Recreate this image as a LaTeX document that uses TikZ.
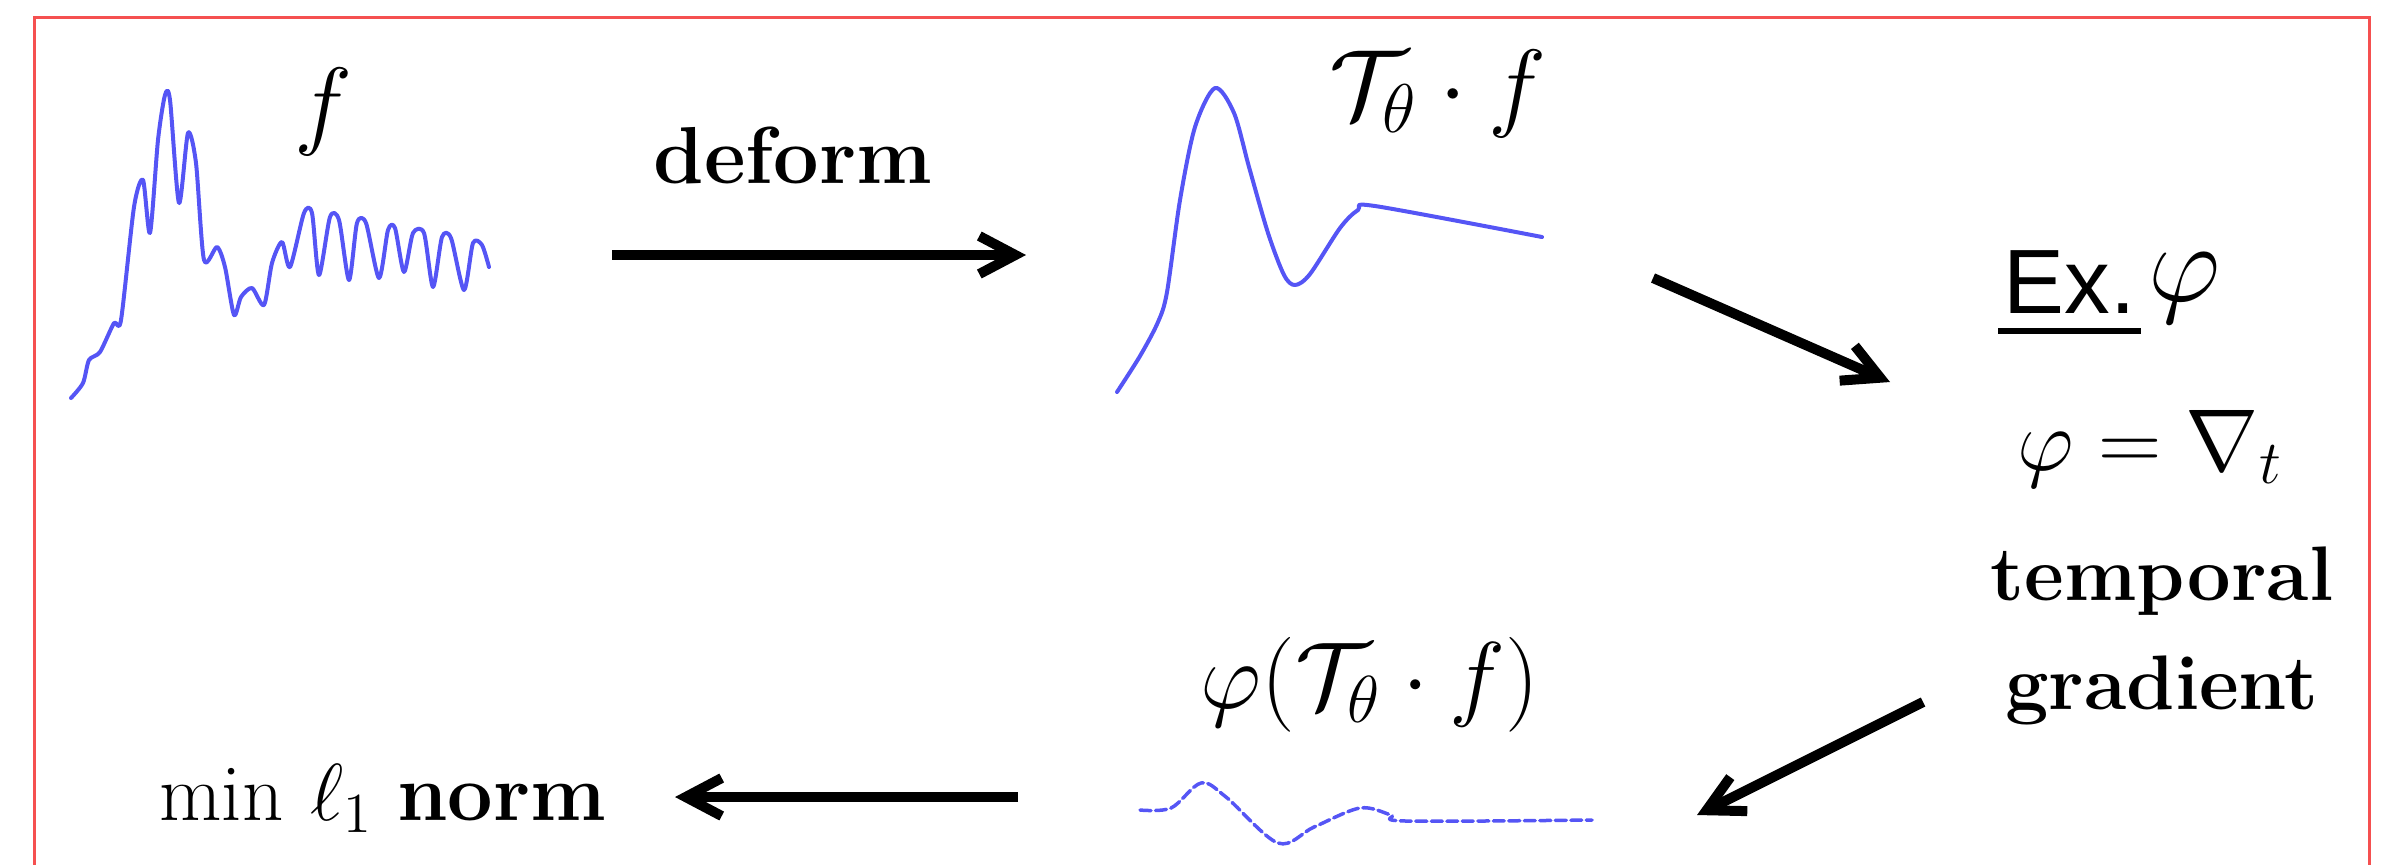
\RequirePackage{fix-cm}
\documentclass[tikz,border=0pt]{standalone}
\usepackage{fontspec}
\usepackage{amsmath}
\usetikzlibrary{arrows.meta}
\newfontfamily\exfont{Liberation Sans}
\definecolor{framered}{RGB}{245,80,80}
\definecolor{sigblue}{RGB}{85,85,245}

\begin{document}
\begin{tikzpicture}[x=0.1mm,y=-0.1mm,
    lbl/.style={inner sep=0pt,font=\fontsize{23}{31}\selectfont},
    mlbl/.style={inner sep=0pt,font=\fontsize{28}{34}\selectfont},
    sig/.style={draw=sigblue,line width=0.4mm,line join=round,line cap=round},
    flow/.style={line width=1mm,-{Straight Barb[length=3.6mm,width=3.8mm]}}]
  \useasboundingbox (0,0) rectangle (2383,864);
  \clip (0,0) rectangle (2383,864);
  \draw[framered,line width=0.3mm] (34,17) rectangle (2369,960);

  % signal f
  \draw[sig] plot[smooth,tension=0.45] coordinates {
    (71,398) (83,383) (89,360) (100,352) (114,323) (121,320) (134,207)
    (143,180) (150,233) (158,140) (165,95) (170,100) (179,203) (188,133)
    (196,163) (204,260) (217,247) (225,267) (234,315) (241,297) (252,288)
    (264,305) (272,263) (282,242) (290,267) (304,213) (312,213) (319,275)
    (330,217) (339,220) (349,280) (357,223) (366,223) (379,278) (388,230)
    (395,228) (404,272) (413,233) (424,233) (433,287) (442,237) (451,238)
    (464,290) (473,243) (482,245) (489,267)};
  \node[mlbl,anchor=base] (flbl) at (323,136) {$f$};

  % deformed signal
  \draw[sig] plot[smooth,tension=0.5] coordinates {
    (1117,392) (1140,356) (1158,322) (1167,292) (1180,200) (1195,127)
    (1215,88) (1234,113) (1249,167) (1268,233) (1284,275) (1295,285)
    (1310,274) (1340,228) (1358,210) (1375,206) (1542,237)};
  \node[mlbl,anchor=base] (tflbl) at (1438,118) {$\mathcal{T}_\theta\cdot f$};

  % gradient of deformed signal
  \draw[sig,line width=0.35mm,dash pattern=on 1.1mm off 0.45mm]
    plot[smooth,tension=0.55] coordinates {
    (1140,810) (1171,808) (1201,783) (1226,797) (1278,843) (1314,827)
    (1360,808) (1391,815) (1406,821) (1592,820)};
  \node[inner sep=0pt,font=\fontsize{27}{32}\selectfont,anchor=base]
    (philbl) at (1370,708) {$\varphi(\mathcal{T}_\theta\cdot f)$};

  \node[lbl,anchor=base] (deform) at (793,183) {\textbf{deform}};
  \node[lbl,anchor=base] (minnorm) at (383,820) {$\min\,\ell_1$ \textbf{norm}};

  % example on the right
  \node[inner sep=0pt,font=\exfont\fontsize{26}{30}\selectfont,anchor=base west]
    (ex) at (2003,313) {Ex.};
  \draw[line width=0.55mm] ([xshift=-0.5mm,yshift=-1.8mm]ex.base west)
    -- ([xshift=0.5mm,yshift=-1.8mm]ex.base east);
  \node[inner sep=0pt,font=\fontsize{32}{36}\selectfont,anchor=base west]
    (exphi) at (2148,301) {$\varphi$};
  \node[inner sep=0pt,font=\fontsize{25}{30}\selectfont,anchor=base]
    (grad) at (2150,470) {$\varphi=\nabla_t$};
  \node[inner sep=0pt,font=\fontsize{22}{31}\selectfont\bfseries,align=center,anchor=north]
    (tgrad) at (2162,546) {temporal\\gradient};

  % arrows
  \coordinate (a1s) at (612,255);  \coordinate (a1e) at (1026,255);
  \coordinate (a2s) at (1653,278); \coordinate (a2e) at (1890,382);
  \coordinate (a3s) at (1923,702); \coordinate (a3e) at (1697,815);
  \coordinate (a4s) at (1018,797); \coordinate (a4e) at (675,797);
  \draw[flow] (a1s) -- (a1e);
  \draw[flow] (a2s) -- (a2e);
  \draw[flow] (a3s) -- (a3e);
  \draw[flow] (a4s) -- (a4e);
\end{tikzpicture}
\end{document}
